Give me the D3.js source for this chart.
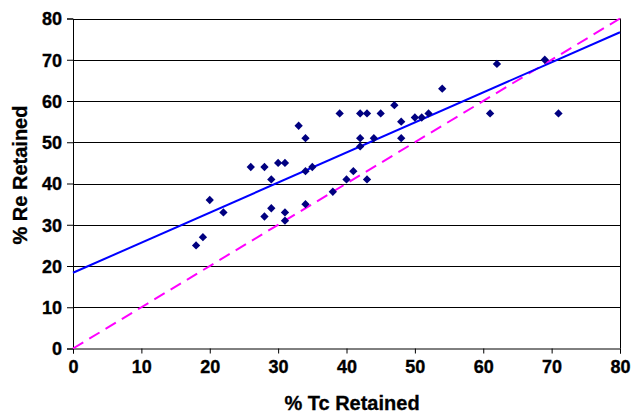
<!DOCTYPE html>
<html><head><meta charset="utf-8">
<script src="https://cdn.jsdelivr.net/npm/d3@7"></script>
<style>
html,body{margin:0;padding:0;background:#fff;}
svg{display:block;font-family:"Liberation Sans",Arial,sans-serif;font-weight:bold;}
</style></head>
<body>
<svg id="chart" width="632" height="416"></svg>
<script>
const tcRetained = [18,19,20,22,26,28,28,29,29,30,31,31,31,33,34,34,34,35,38,39,40,41,42,43,42,42,43,44,45,47,48,48,50,51,52,54,61,62,69,71];
const reRetained = [25,27,36,33,44,44,32,41,34,45,45,33,31,54,51,43,35,44,38,57,41,43,57,57,51,49,41,51,57,59,55,51,56,56,57,63,57,69,70,57];
const xTicks = [0,10,20,30,40,50,60,70,80];
const yTicks = [0,10,20,30,40,50,60,70,80];
const xTitle = "% Tc Retained";
const yTitle = "% Re Retained";

const svg = d3.select("#chart");
const L = 73, R = 620, T = 18.5, B = 348.5;
const x = d3.scaleLinear().domain([0,80]).range([L,R]);
const y = d3.scaleLinear().domain([0,80]).range([B,T]);

// gridlines
svg.append("g").selectAll("line").data(yTicks.filter(d=>d>0)).join("line")
  .attr("x1",L).attr("x2",R).attr("y1",d=>Math.round(y(d))+0.5).attr("y2",d=>Math.round(y(d))+0.5)
  .attr("stroke","#000").attr("stroke-width",1);
// right border
svg.append("line").attr("x1",R+0.5).attr("x2",R+0.5).attr("y1",T).attr("y2",B).attr("stroke","#000");

// axes
const xAxis = svg.append("g").attr("transform",`translate(0,${B})`)
  .call(d3.axisBottom(x).tickValues(xTicks).tickSize(5).tickPadding(7).tickFormat(d3.format("d")));
const yAxis = svg.append("g").attr("transform",`translate(${L},0)`)
  .call(d3.axisLeft(y).tickValues(yTicks).tickSize(6).tickPadding(5).tickFormat(d3.format("d")));
[xAxis,yAxis].forEach(a=>{
  a.selectAll("path").attr("stroke","#000");
  a.selectAll("line").attr("stroke","#000");
  a.selectAll("text").attr("font-size","18px").attr("font-weight","bold").attr("fill","#000")
    .attr("stroke","#000").attr("stroke-width",0.35)
    .attr("font-family","'Liberation Sans',Arial,sans-serif");
});
xAxis.selectAll("text").attr("dy","0.71em");
yAxis.selectAll("text").attr("dy","0.36em");

// y = x reference line
svg.append("line").attr("x1",x(0)).attr("y1",y(0)).attr("x2",x(80)).attr("y2",y(80))
  .attr("stroke","#FF00FF").attr("stroke-width",2).attr("stroke-dasharray","12,7");

// least squares trendline
const n = tcRetained.length;
const mx = d3.mean(tcRetained), my = d3.mean(reRetained);
let sxy=0,sxx=0;
for(let i=0;i<n;i++){sxy+=(tcRetained[i]-mx)*(reRetained[i]-my);sxx+=(tcRetained[i]-mx)**2;}
const slope = sxy/sxx, icpt = my - slope*mx;
svg.append("line").attr("x1",x(0)).attr("y1",y(icpt)).attr("x2",x(80)).attr("y2",y(icpt+slope*80))
  .attr("stroke","#0000FF").attr("stroke-width",2);

// points
const diamond = d3.symbol().type(d3.symbolDiamond2).size(44);
svg.append("g").selectAll("path").data(tcRetained.map((v,i)=>[v,reRetained[i]])).join("path")
  .attr("d",diamond).attr("transform",d=>`translate(${x(d[0])},${y(d[1])})`)
  .attr("fill","#000080");

// titles
svg.append("text").attr("x",352).attr("y",410).attr("text-anchor","middle")
  .attr("font-size","20px").attr("stroke","#000").attr("stroke-width",0.3).text(xTitle);
svg.append("text").attr("transform","translate(27,175) rotate(-90)").attr("text-anchor","middle")
  .attr("font-size","20px").attr("stroke","#000").attr("stroke-width",0.3).text(yTitle);
</script>
</body></html>
